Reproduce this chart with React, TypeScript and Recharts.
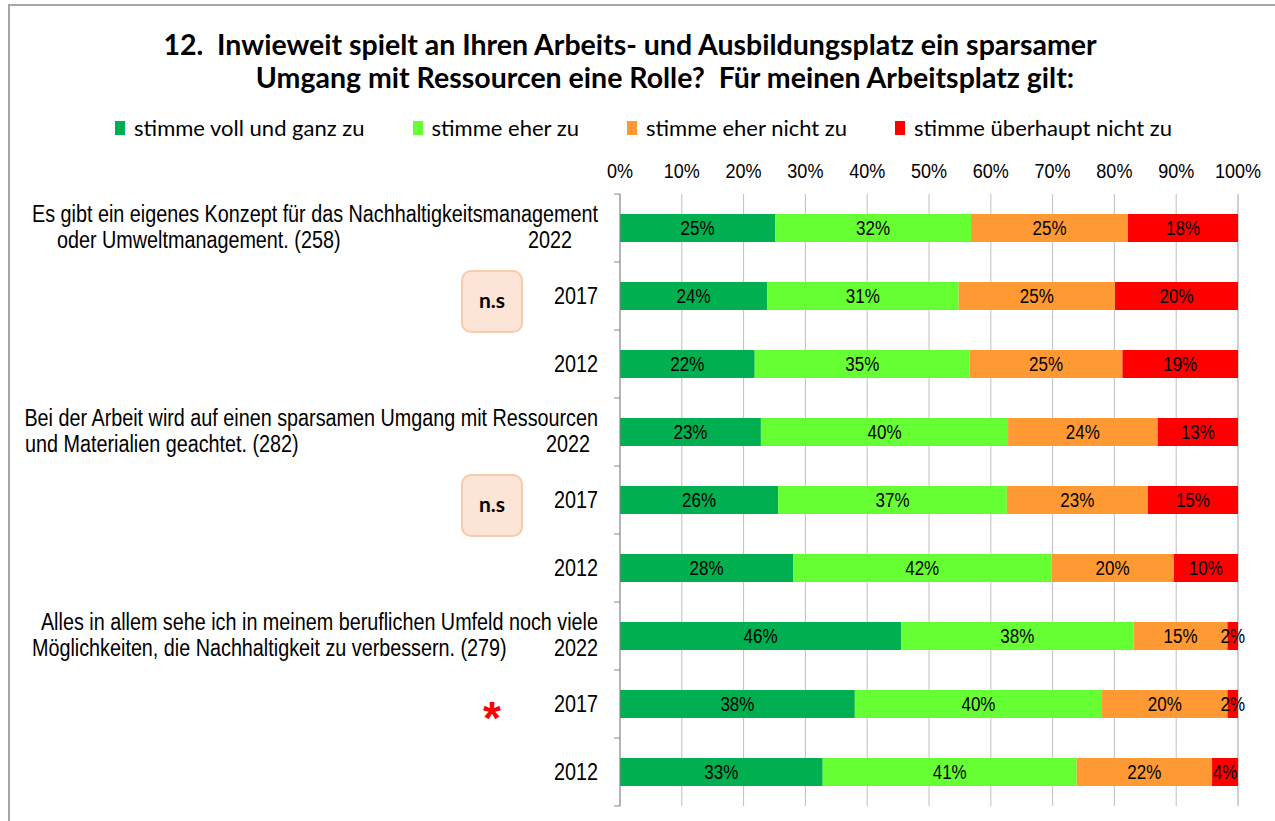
import { BarChart, Bar, XAxis, YAxis, CartesianGrid, LabelList } from 'recharts'

// categories: three statements, each asked in three survey years
const years = ['2022', '2017', '2012', '2022', '2017', '2012', '2022', '2017', '2012']
const questionLine1 = [
  'Es gibt ein eigenes Konzept für das Nachhaltigkeitsmanagement',
  'Bei der Arbeit wird auf einen sparsamen Umgang mit Ressourcen',
  'Alles in allem sehe ich in meinem beruflichen Umfeld noch viele',
]
const questionLine2 = [
  'oder Umweltmanagement. (258)',
  'und Materialien geachtet. (282)',
  'Möglichkeiten, die Nachhaltigkeit zu verbessern. (279)',
]
// significance marks next to the rows
const notes = ['', 'n.s', '', '', 'n.s', '', '', '*', '']

// shares in percent
const vollUndGanz = [25.1, 23.8, 21.8, 22.8, 25.6, 28.0, 45.5, 38.0, 32.8]
const eherZu = [31.7, 31.0, 34.8, 40.0, 37.0, 41.8, 37.6, 40.0, 41.1]
const eherNicht = [25.4, 25.3, 24.7, 24.2, 22.8, 19.8, 15.2, 20.3, 21.9]
const ueberhauptNicht = [17.8, 19.9, 18.7, 13.0, 14.6, 10.4, 1.7, 1.7, 4.2]

const xTicks = [0, 10, 20, 30, 40, 50, 60, 70, 80, 90, 100]

const series = [
  { key: 'voll', name: 'stimme voll und ganz zu', color: '#00B050' },
  { key: 'eher', name: 'stimme eher zu', color: '#66FF33' },
  { key: 'eherNicht', name: 'stimme eher nicht zu', color: '#FF9933' },
  { key: 'nicht', name: 'stimme überhaupt nicht zu', color: '#FF0000' },
]

const data = years.map((year, i) => ({
  label: `${i}-${year}`,
  voll: vollUndGanz[i],
  eher: eherZu[i],
  eherNicht: eherNicht[i],
  nicht: ueberhauptNicht[i],
}))

const AXIS_X = 620
const BAND = 68
const TEXT_RIGHT = 598
const line2Start = [57, 25, 32]
const yearEnd = [572, 590, 598]

const arial = "'Liberation Sans', Arial, sans-serif"
const calibri = "Lato, 'Open Sans', sans-serif"

// Arial squeezed a bit, to look like the narrow Excel text
function NText({ x, y, anchor = 'start', size = 23, sx = 0.86, children }: any) {
  return (
    <text transform={`translate(${x},${y}) scale(${sx},1)`} textAnchor={anchor} fontFamily={arial} fontSize={size} fill="#000">
      {children}
    </text>
  )
}

function CategoryTick(props: any) {
  const { y, payload } = props
  const i = payload.index as number
  const q = i % 3 === 0 ? i / 3 : -1
  const note = notes[i]
  return (
    <g>
      {i === 0 && <line x1={AXIS_X - 6} x2={AXIS_X} y1={y - BAND / 2} y2={y - BAND / 2} stroke="#888" />}
      <line x1={AXIS_X - 6} x2={AXIS_X} y1={y + BAND / 2} y2={y + BAND / 2} stroke="#888" />
      {q >= 0 ? (
        <g>
          <NText x={TEXT_RIGHT} y={y - 6} anchor="end">{questionLine1[q]}</NText>
          <NText x={line2Start[q]} y={y + 20}>{questionLine2[q]}</NText>
          <NText x={yearEnd[q]} y={y + 20} anchor="end">{years[i]}</NText>
        </g>
      ) : (
        <NText x={TEXT_RIGHT} y={y + 8} anchor="end">{years[i]}</NText>
      )}
      {note === 'n.s' && (
        <g>
          <rect x={462} y={y - 25} width={60} height={61} rx={9} fill="#FCE4D6" stroke="#F8CBAD" strokeWidth={2} />
          <text x={492} y={y + 12} textAnchor="middle" fontFamily={calibri} fontWeight={700} fontSize={21} fill="#000">
            n.s
          </text>
        </g>
      )}
      {note === '*' && (
        <text x={492} y={y + 30} textAnchor="middle" fontFamily={arial} fontWeight={700} fontSize={46} fill="#FF0000">
          *
        </text>
      )}
    </g>
  )
}

function PercentTick(props: any) {
  const { x, y, payload } = props
  return (
    <NText x={x} y={y} anchor="middle" size={21} sx={0.86}>
      {`${payload.value}%`}
    </NText>
  )
}

function BarLabel(props: any) {
  const { x, y, width, height, value } = props
  return (
    <NText x={Number(x) + Number(width) / 2} y={Number(y) + Number(height) / 2 + 7} anchor="middle" size={21} sx={0.81}>
      {`${Math.round(Number(value))}%`}
    </NText>
  )
}

export default function App() {
  return (
    <div style={{ position: 'absolute', left: 0, top: 0, width: 1275, height: 821, background: '#fff', overflow: 'hidden' }}>
      <div style={{ position: 'absolute', left: 8, top: 4, right: -2, bottom: -2, borderTop: '2px solid #A6A6A6', borderLeft: '2px solid #A6A6A6' }} />
      <div style={{ position: 'absolute', left: 80, top: 28, width: 1100, textAlign: 'center', fontFamily: calibri, fontWeight: 700, fontSize: 28.5, lineHeight: '33px' }}>
        12.&nbsp; Inwieweit spielt an Ihren Arbeits- und Ausbildungsplatz ein sparsamer
      </div>
      <div style={{ position: 'absolute', left: 115, top: 61, width: 1100, textAlign: 'center', fontFamily: calibri, fontWeight: 700, fontSize: 28.5, lineHeight: '33px' }}>
        Umgang mit Ressourcen eine Rolle?&nbsp; Für meinen Arbeitsplatz gilt:
      </div>
      <div style={{ position: 'absolute', left: 0, top: 114, width: 1275, display: 'flex', justifyContent: 'center', gap: 48, paddingLeft: 12, boxSizing: 'border-box', fontFamily: calibri, fontSize: 22, lineHeight: '28px' }}>
        {series.map((s) => (
          <div key={s.key} style={{ display: 'flex', alignItems: 'center' }}>
            <span style={{ display: 'inline-block', width: 10, height: 14, background: s.color, marginRight: 9 }} />
            <span>{s.name}</span>
          </div>
        ))}
      </div>
      <div style={{ position: 'absolute', left: 0, top: 0 }}>
        <BarChart
          width={1275}
          height={821}
          data={data}
          layout="vertical"
          margin={{ top: 164, right: 37, left: 0, bottom: 15 }}
        >
          <CartesianGrid horizontal={false} stroke="#BFBFBF" />
          <XAxis
            type="number"
            orientation="top"
            domain={[0, 100]}
            ticks={xTicks}
            axisLine={false}
            tickLine={false}
            height={30}
            tickMargin={10}
            interval={0}
            tick={<PercentTick />}
          />
          <YAxis
            type="category"
            dataKey="label"
            width={AXIS_X}
            axisLine={{ stroke: '#888' }}
            tickLine={false}
            interval={0}
            tick={<CategoryTick />}
          />
          {series.map((s) => (
            <Bar key={s.key} dataKey={s.key} name={s.name} stackId="a" fill={s.color} barSize={28} isAnimationActive={false}>
              <LabelList dataKey={s.key} content={<BarLabel />} />
            </Bar>
          ))}
        </BarChart>
      </div>
    </div>
  )
}
